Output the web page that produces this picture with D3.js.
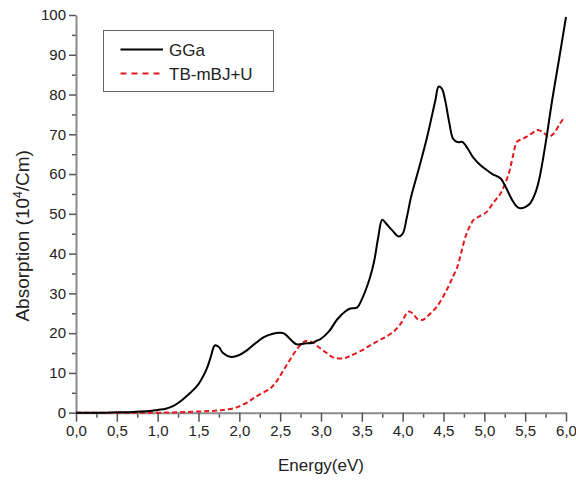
<!DOCTYPE html>
<html>
<head>
<meta charset="utf-8">
<script src="https://cdn.jsdelivr.net/npm/d3@7"></script>
<style>
  html, body { margin: 0; padding: 0; background: #fff; }
  svg { display: block; font-family: "Liberation Sans", Arial, sans-serif; }
</style>
</head>
<body>
<svg id="chart" width="576" height="481"></svg>
<script>
// Photon energy (eV) and absorption (10^4 /cm) for the two functionals
const ggaEnergy = [0, 0.3, 0.5, 0.7, 0.9, 1.0, 1.1, 1.2, 1.3, 1.4, 1.5, 1.6, 1.65, 1.7, 1.75, 1.8, 1.9, 2.0, 2.1, 2.2, 2.3, 2.4, 2.5, 2.55, 2.6, 2.7, 2.8, 2.9, 2.95, 3.0, 3.1, 3.2, 3.3, 3.36, 3.44, 3.5, 3.6, 3.65, 3.7, 3.75, 3.8, 3.87, 3.95, 4.0, 4.05, 4.1, 4.2, 4.3, 4.4, 4.44, 4.48, 4.52, 4.57, 4.62, 4.68, 4.73, 4.8, 4.87, 4.95, 5.03, 5.1, 5.2, 5.26, 5.34, 5.4, 5.44, 5.5, 5.56, 5.62, 5.67, 5.75, 5.83, 5.92, 6.0];
const ggaAbs    = [0, 0, 0.1, 0.2, 0.4, 0.7, 1.0, 1.8, 3.2, 5.0, 7.2, 11, 14, 16.9, 16.5, 15, 14, 14.5, 15.8, 17.5, 19, 19.8, 20.1, 19.9, 19, 17.2, 17.4, 17.6, 18.1, 18.6, 20.5, 23.5, 25.5, 26.2, 26.4, 28.5, 34, 38, 44, 48.5, 47.5, 45.9, 44.3, 45, 49, 54, 61.5, 69.4, 78.5, 82, 81.5, 78.6, 73, 68.8, 68, 68.1, 66.3, 64, 62.3, 61, 60, 58.9, 56.8, 53.5, 51.8, 51.4, 51.7, 52.6, 55, 58.5, 67.7, 78.5, 89.5, 99.5];

const tbEnergy = [0, 1.0, 1.5, 1.7, 1.8, 1.93, 2.0, 2.1, 2.17, 2.25, 2.38, 2.46, 2.54, 2.62, 2.7, 2.77, 2.83, 2.9, 2.99, 3.07, 3.15, 3.28, 3.36, 3.5, 3.64, 3.77, 3.89, 3.98, 4.07, 4.12, 4.18, 4.24, 4.3, 4.42, 4.54, 4.6, 4.67, 4.72, 4.77, 4.82, 4.87, 4.95, 5.03, 5.1, 5.2, 5.3, 5.35, 5.4, 5.46, 5.52, 5.6, 5.65, 5.72, 5.79, 5.85, 5.92, 5.97];
const tbAbs    = [0, 0, 0.3, 0.5, 0.7, 1.1, 1.6, 2.6, 3.6, 4.6, 6.1, 8, 10.7, 13.3, 15.8, 17.5, 18.1, 17.6, 16.2, 15, 13.9, 13.7, 14.3, 15.7, 17.4, 18.8, 20.4, 22.5, 25.4, 25, 23.6, 23.3, 24.2, 26.7, 30.9, 33.5, 36.7, 40.5, 44.3, 46.8, 48.5, 49.5, 50.5, 52.5, 55.2, 60.2, 64.5, 68.1, 68.8, 69.4, 70.5, 71.1, 70.5, 69.4, 70.2, 72.5, 74];

const seriesNames = ["GGa", "TB-mBJ+U"];
const xTicks = [0, 0.5, 1, 1.5, 2, 2.5, 3, 3.5, 4, 4.5, 5, 5.5, 6];
const yTicks = [0, 10, 20, 30, 40, 50, 60, 70, 80, 90, 100];

const svg = d3.select("#chart");
const margin = { left: 76, right: 10, top: 15, bottom: 68 };

const x = d3.scaleLinear().domain([0, 6]).range([margin.left, 566]);
const y = d3.scaleLinear().domain([0, 100]).range([412.7, margin.top]);

const axisColor = "#8a8a8a";
const textColor = "#222";
const commaFmt = v => d3.format(".1f")(v).replace(".", ",");

// minor ticks
const xMinor = d3.range(0.25, 6, 0.5);
const yMinor = d3.range(5, 100, 10);

const gx = svg.append("g").attr("transform", `translate(0,${y(0)})`);
gx.append("g").call(d3.axisBottom(x).tickValues(xMinor).tickSize(5).tickFormat(""))
  .call(g => g.select(".domain").remove());
gx.append("g").call(d3.axisBottom(x).tickValues(xTicks).tickSize(9).tickSizeOuter(0).tickPadding(4).tickFormat(commaFmt));

const gy = svg.append("g").attr("transform", `translate(${x(0)},0)`);
gy.append("g").call(d3.axisLeft(y).tickValues(yMinor).tickSize(4).tickFormat(""))
  .call(g => g.select(".domain").remove());
gy.append("g").call(d3.axisLeft(y).tickValues(yTicks).tickSize(7).tickSizeOuter(0).tickPadding(3).tickFormat(d3.format("d")));

svg.selectAll(".domain").attr("stroke", axisColor).attr("stroke-width", 2);
svg.selectAll(".tick line").attr("stroke", "#555").attr("stroke-width", 1.5);
svg.selectAll(".tick text").attr("fill", textColor).style("font-size", "15px").style("font-family", "'Liberation Sans', Arial, sans-serif");

// curves
const line = d3.line().x(d => x(d[0])).y(d => y(d[1])).curve(d3.curveCatmullRom.alpha(0.5));

svg.append("path")
  .datum(d3.zip(tbEnergy, tbAbs))
  .attr("fill", "none").attr("stroke", "#e3191c").attr("stroke-width", 2)
  .attr("stroke-dasharray", "5,3")
  .attr("d", line);

svg.append("path")
  .datum(d3.zip(ggaEnergy, ggaAbs))
  .attr("fill", "none").attr("stroke", "#000").attr("stroke-width", 2)
  .attr("d", line);

// axis titles
svg.append("text")
  .attr("x", (x(0) + x(6)) / 2).attr("y", 471)
  .attr("text-anchor", "middle").attr("fill", textColor)
  .style("font-size", "17px").text("Energy(eV)");

const yTitle = svg.append("text")
  .attr("transform", `translate(29,${(y(0) + y(100)) / 2 + 22}) rotate(-90)`)
  .attr("text-anchor", "middle").attr("fill", textColor)
  .style("font-size", "19px");
yTitle.append("tspan").text("Absorption (10");
yTitle.append("tspan").attr("dy", -7).style("font-size", "12px").text("4");
yTitle.append("tspan").attr("dy", 7).text("/Cm)");

// legend
const leg = svg.append("g");
leg.append("rect").attr("x", 103.5).attr("y", 30.5).attr("width", 170).attr("height", 61)
  .attr("fill", "#fff").attr("stroke", "#666").attr("stroke-width", 1);
const legItems = [
  { name: seriesNames[0], color: "#000", dash: null, yy: 49.5 },
  { name: seriesNames[1], color: "#e3191c", dash: "6,5", yy: 73.5 }
];
legItems.forEach(d => {
  leg.append("line").attr("x1", 120.5).attr("x2", 163).attr("y1", d.yy).attr("y2", d.yy)
    .attr("stroke", d.color).attr("stroke-width", 2).attr("stroke-dasharray", d.dash);
  leg.append("text").attr("x", 169).attr("y", d.yy + 6).attr("fill", textColor)
    .style("font-size", "17px").text(d.name);
});
</script>
</body>
</html>
